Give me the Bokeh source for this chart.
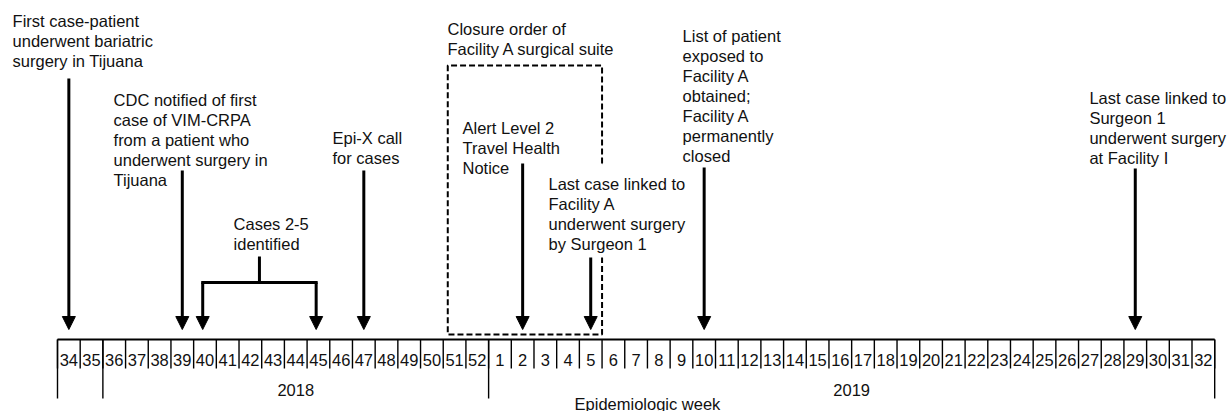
from bokeh.plotting import figure
from bokeh.models import Range1d, ColumnDataSource, Arrow, NormalHead
from bokeh.core.properties import value
from bokeh.embed import file_html
from bokeh.resources import INLINE

# ---------------- data ----------------
weeks_2018 = list(range(34, 53))
weeks_2019 = list(range(1, 33))
year_labels = ["2018", "2019"]
axis_title = "Epidemiologic week"

event_years = [2018, 2018, 2018, 2019, 2019, 2019, 2019]
event_weeks = [34, 39, 47, 2, 5, 10, 29]
event_texts = [
    "First case-patient\nunderwent bariatric\nsurgery in Tijuana",
    "CDC notified of first\ncase of VIM-CRPA\nfrom a patient who\nunderwent surgery in\nTijuana",
    "Epi-X call\nfor cases",
    "Alert Level 2\nTravel Health\nNotice",
    "Last case linked to\nFacility A\nunderwent surgery\nby Surgeon 1",
    "List of patient\nexposed to\nFacility A\nobtained;\nFacility A\npermanently\nclosed",
    "Last case linked to\nSurgeon 1\nunderwent surgery\nat Facility I",
]
cases_year = 2018
cases_weeks = [40, 45]
cases_text = "Cases 2-5\nidentified"
closure_start = (2018, 51)
closure_end = (2019, 5)
closure_text = "Closure order of\nFacility A surgical suite"

# ---------------- layout ----------------
FONT = value("Liberation Sans")
FS = "16.5px"
TXT = "#111111"
LINE_H = 20
AXIS_Y = 339
DIV_Y = 368
LONG_Y = 398
TICK_Y = 359
YEAR_Y = 389
TITLE_Y = 403
TIP_Y = 329
arrow_tops = [78, 170, 170, 163, 257, 167, 168]
label_x = [-1.98, 2.47, 12.12, 17.85, 21.64, 27.55, 45.48]
label_y = [20, 99, 137, 127, 183, 35, 97]
cases_label = (7.76, 223)
bracket_stem_top = 256
bracket_bar_y = 282
closure_left_off = 0.2
closure_top = 65
closure_bottom = 334
closure_gap = (163, 257)
closure_label = (17.19, 28)

CELL = 22.69
W, H = 1228, 411
X0 = 57  # px of index 0

all_weeks = [(2018, w) for w in weeks_2018] + [(2019, w) for w in weeks_2019]
n = len(all_weeks)


def idx(year, week):
    return all_weeks.index((year, week))


p = figure(width=W, height=H, output_backend="svg", toolbar_location=None,
           x_range=Range1d(-X0 / CELL, (W - X0) / CELL),
           y_range=Range1d(H, 0),
           x_axis_location=None, y_axis_location=None, min_border=0)
p.grid.visible = False
p.outline_line_color = None
p.background_fill_color = "white"
p.border_fill_color = "white"

# timeline
p.segment(x0=[0], y0=[AXIS_Y], x1=[n], y1=[AXIS_Y], line_color="black", line_width=1.8)
p.segment(x0=list(range(n + 1)), y0=[AXIS_Y] * (n + 1), x1=list(range(n + 1)),
          y1=[DIV_Y] * (n + 1), line_color="black", line_width=1.4)
long_x = [0, idx(2018, 36), idx(2019, 1), n]
p.segment(x0=long_x, y0=[AXIS_Y] * 4, x1=long_x, y1=[LONG_Y] * 4,
          line_color="black", line_width=1.4)

p.text(x=[i + 0.5 for i in range(n)], y=[TICK_Y] * n,
       text=[str(w) for _, w in all_weeks], text_align="center", text_baseline="middle",
       text_font=FONT, text_font_size="16.5px", text_color=TXT)

y2018_c = (idx(2018, 36) + idx(2019, 1)) / 2
y2019_c = (idx(2019, 1) + n) / 2
p.text(x=[y2018_c, y2019_c], y=[YEAR_Y] * 2, text=year_labels, text_align="center",
       text_baseline="middle", text_font=FONT, text_font_size=FS, text_color=TXT)
p.text(x=[26], y=[TITLE_Y], text=[axis_title], text_align="center",
       text_baseline="middle", text_font=FONT, text_font_size=FS, text_color=TXT)

# closure box (right edge interrupted by a label)
bl = idx(*closure_start) + closure_left_off
br = idx(*closure_end) + 1
p.multi_line(xs=[[br, br, bl, bl, br, br], [br, br]],
             ys=[[closure_gap[0], closure_top, closure_top, closure_bottom, closure_bottom,
                  closure_gap[1]], [closure_gap[0], closure_gap[0]]],
             line_color="black", line_width=2, line_dash="6 3")


def draw_label(x, y, txt):
    lines = txt.split("\n")
    p.text(x=[x] * len(lines), y=[y + i * LINE_H for i in range(len(lines))],
           text=lines, text_align="left", text_baseline="middle",
           text_font=FONT, text_font_size=FS, text_color=TXT)


draw_label(closure_label[0], closure_label[1], closure_text)

# event arrows
ex = [idx(y, w) + 0.5 for y, w in zip(event_years, event_weeks)]
src = ColumnDataSource(dict(x=ex, y0=arrow_tops, y1=[TIP_Y] * len(ex)))
p.add_layout(Arrow(end=NormalHead(size=13, fill_color="black", line_color="black"),
                   x_start="x", y_start="y0", x_end="x", y_end="y1", source=src,
                   line_width=3, line_color="black"))
for lx, ly, t in zip(label_x, label_y, event_texts):
    draw_label(lx, ly, t)

# cases bracket
cx = [idx(cases_year, w) + 0.4 for w in cases_weeks]
mid = sum(cx) / 2
p.segment(x0=[mid], y0=[bracket_stem_top], x1=[mid], y1=[bracket_bar_y],
          line_color="black", line_width=3)
p.segment(x0=[cx[0]], y0=[bracket_bar_y], x1=[cx[1]], y1=[bracket_bar_y],
          line_color="black", line_width=3, line_cap="square")
csrc = ColumnDataSource(dict(x=cx, y0=[bracket_bar_y] * 2, y1=[TIP_Y] * 2))
p.add_layout(Arrow(end=NormalHead(size=13, fill_color="black", line_color="black"),
                   x_start="x", y_start="y0", x_end="x", y_end="y1", source=csrc,
                   line_width=3, line_color="black"))
draw_label(cases_label[0], cases_label[1], cases_text)

open("out.html", "w").write(file_html(p, INLINE))
